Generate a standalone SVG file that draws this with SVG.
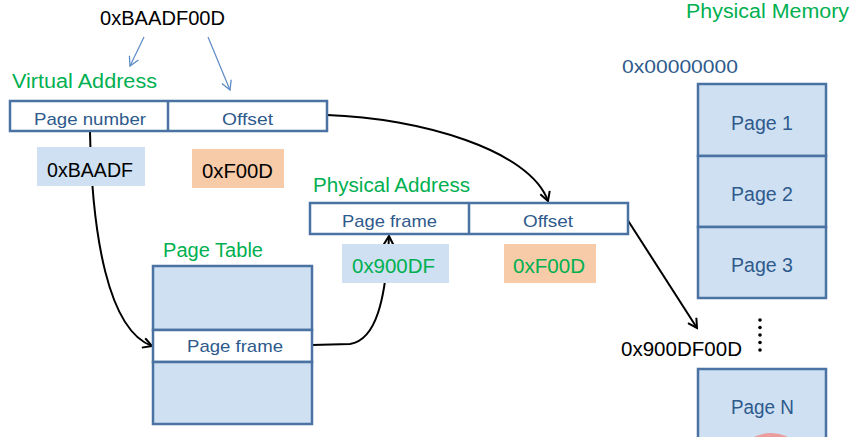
<svg xmlns="http://www.w3.org/2000/svg" width="851" height="437" viewBox="0 0 851 437">
<style>
text{font-family:"Liberation Sans","DejaVu Sans",sans-serif}
.g{fill:#00b050;font-size:20px}
.b{fill:#2e5a8c;font-size:17px}
.k{fill:#000;font-size:19.5px}
.gn{fill:#00b050;font-size:19.5px}
.pg{fill:#2e5a8c;font-size:20px}
.box{fill:#fff;stroke:#4a72a2;stroke-width:2.5}
.lb{fill:#cfe0f3}
.or{fill:#f8cba8}
.mem{fill:#cfe0f3;stroke:#4a72a2;stroke-width:2.5}
.c{fill:none;stroke:#000;stroke-width:2}
.ba{fill:none;stroke:#5b8ac4;stroke-width:1.2}
</style>
<defs>
<marker id="ah" viewBox="0 0 12 12" refX="10" refY="6" markerWidth="12" markerHeight="12" markerUnits="userSpaceOnUse" orient="auto">
<path d="M1,1 L10,6 L1,11" fill="none" stroke="#000" stroke-width="2"/>
</marker>
<marker id="bh" viewBox="0 0 12 12" refX="10" refY="6" markerWidth="12" markerHeight="12" markerUnits="userSpaceOnUse" orient="auto">
<path d="M1,1 L10,6 L1,11" fill="none" stroke="#5b8ac4" stroke-width="1.3"/>
</marker>
</defs>
<g id="connectors">
<path class="ba" d="M144,37 L130,66" marker-end="url(#bh)"/>
<path class="ba" d="M208,37 L230,90" marker-end="url(#bh)"/>
<path class="c" d="M90,132 C92,235 108,330 152,346" marker-end="url(#ah)"/>
<path class="c" d="M312,345 L350,344 C376,340 386,300 389,236" marker-end="url(#ah)"/>
<path class="c" d="M327,115 C420,118 530,150 548,201" marker-end="url(#ah)"/>
<path class="c" d="M627,219 L697,328" marker-end="url(#ah)"/>
</g>
<g id="title"><text class="k" x="100" y="25" textLength="125" lengthAdjust="spacingAndGlyphs">0xBAADF00D</text></g>
<g id="virtual-address">
<text class="g" x="12" y="88" textLength="145" lengthAdjust="spacingAndGlyphs">Virtual Address</text>
<rect class="box" x="10" y="101" width="317" height="30"/>
<line x1="168" y1="101" x2="168" y2="131" stroke="#4a72a2" stroke-width="2.5"/>
<text class="b" x="34" y="125" textLength="112" lengthAdjust="spacingAndGlyphs">Page number</text>
<text class="b" x="222" y="125" textLength="51" lengthAdjust="spacingAndGlyphs">Offset</text>
</g>
<g id="vpn-value">
<rect class="lb" x="37" y="147" width="108" height="39"/>
<text class="k" x="47" y="177" textLength="86" lengthAdjust="spacingAndGlyphs">0xBAADF</text>
</g>
<g id="voff-value">
<rect class="or" x="192" y="149" width="92" height="39"/>
<text class="k" x="202" y="178" textLength="71" lengthAdjust="spacingAndGlyphs">0xF00D</text>
</g>
<g id="physical-address">
<text class="g" x="313" y="192" textLength="157" lengthAdjust="spacingAndGlyphs">Physical Address</text>
<rect class="box" x="310" y="203" width="318" height="31"/>
<line x1="469" y1="203" x2="469" y2="234" stroke="#4a72a2" stroke-width="2.5"/>
<text class="b" x="342" y="227" textLength="95" lengthAdjust="spacingAndGlyphs">Page frame</text>
<text class="b" x="523" y="227" textLength="50" lengthAdjust="spacingAndGlyphs">Offset</text>
</g>
<g id="pfn-value">
<rect class="lb" x="342" y="244" width="107" height="39"/>
<text class="gn" x="352" y="273" textLength="83" lengthAdjust="spacingAndGlyphs">0x900DF</text>
</g>
<g id="poff-value">
<rect class="or" x="504" y="244" width="92" height="39"/>
<text class="gn" x="513" y="273" textLength="72" lengthAdjust="spacingAndGlyphs">0xF00D</text>
</g>
<g id="page-table">
<text class="g" x="163" y="257" textLength="100" lengthAdjust="spacingAndGlyphs">Page Table</text>
<rect class="mem" x="153" y="266" width="159" height="64"/>
<rect class="box" x="153" y="330" width="159" height="32"/>
<rect class="mem" x="153" y="362" width="159" height="62"/>
<text class="b" x="187" y="352" textLength="96" lengthAdjust="spacingAndGlyphs">Page frame</text>
</g>
<g id="physical-memory">
<text class="g" x="686" y="18" textLength="163" lengthAdjust="spacingAndGlyphs">Physical Memory</text>
<text x="622" y="73" style="fill:#2e5a8c;font-size:19px" textLength="116" lengthAdjust="spacingAndGlyphs">0x00000000</text>
</g>
<g id="page-1"><rect class="mem" x="698" y="84" width="128" height="72"/><text class="pg" x="731" y="130" textLength="62" lengthAdjust="spacingAndGlyphs">Page 1</text></g>
<g id="page-2"><rect class="mem" x="698" y="156" width="128" height="71"/><text class="pg" x="731" y="201" textLength="62" lengthAdjust="spacingAndGlyphs">Page 2</text></g>
<g id="page-3"><rect class="mem" x="698" y="227" width="128" height="71"/><text class="pg" x="731" y="272" textLength="62" lengthAdjust="spacingAndGlyphs">Page 3</text></g>
<g id="dots" fill="#000"><circle cx="760" cy="320" r="1.8"/><circle cx="760" cy="327.5" r="1.8"/><circle cx="760" cy="335" r="1.8"/><circle cx="760" cy="342.5" r="1.8"/><circle cx="760" cy="350" r="1.8"/></g>
<g id="addr-label"><text class="k" x="621" y="356" textLength="121" lengthAdjust="spacingAndGlyphs">0x900DF00D</text></g>
<g id="page-n"><path d="M698,440 L698,369 L826,369 L826,440" fill="#cfe0f3" stroke="#4a72a2" stroke-width="2.5"/><text class="pg" x="731" y="414" textLength="63" lengthAdjust="spacingAndGlyphs">Page N</text></g>
<circle cx="771" cy="470" r="37" fill="#eb9c9c"/>
</svg>
